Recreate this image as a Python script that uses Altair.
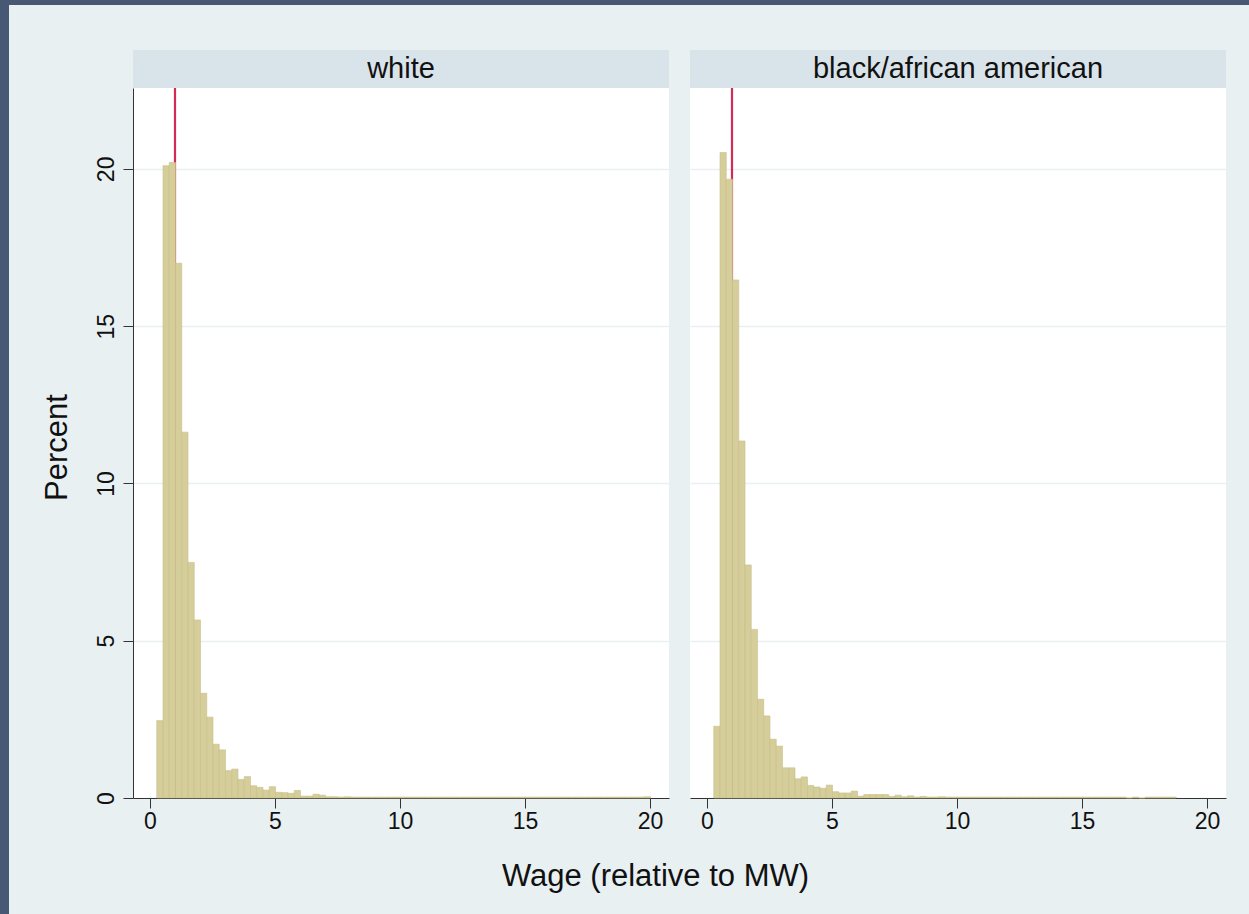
import altair as alt
import pandas as pd

# ---- data ----
groups = ["white", "black/african american"]

first_edge = 0.27
bin_width = 0.25
min_wage = [1.0]

white_pct = [2.46, 20.10, 20.20, 17.00, 11.63, 7.49, 5.66, 3.33, 2.57, 1.71,
             1.53, 0.87, 0.92, 0.59, 0.68, 0.39, 0.34, 0.25, 0.36, 0.18,
             0.17, 0.15, 0.24, 0.06, 0.06, 0.12, 0.09, 0.04, 0.04, 0.03,
             0.04, 0.03, 0.03, 0.03, 0.03, 0.03, 0.03, 0.03, 0.03, 0.03,
             0.03, 0.03, 0.03, 0.03, 0.03, 0.03, 0.03, 0.03, 0.03, 0.03,
             0.03, 0.03, 0.03, 0.03, 0.03, 0.03, 0.03, 0.03, 0.03, 0.03,
             0.03, 0.03, 0.03, 0.03, 0.03, 0.03, 0.03, 0.03, 0.03, 0.03,
             0.03, 0.03, 0.03, 0.03, 0.03, 0.03, 0.03, 0.03, 0.04]

black_pct = [2.28, 20.52, 19.67, 16.47, 11.35, 7.41, 5.36, 3.14, 2.61, 1.87,
             1.65, 0.96, 0.96, 0.61, 0.67, 0.40, 0.35, 0.31, 0.41, 0.20,
             0.16, 0.16, 0.22, 0.06, 0.11, 0.11, 0.11, 0.11, 0.05, 0.09,
             0.04, 0.07, 0.03, 0.05, 0.03, 0.03, 0.04, 0.03, 0.03, 0.03,
             0.03, 0.03, 0.03, 0.03, 0.03, 0.03, 0.03, 0.03, 0.03, 0.03,
             0.03, 0.03, 0.03, 0.03, 0.03, 0.03, 0.03, 0.03, 0.03, 0.03,
             0.03, 0.03, 0.03, 0.03, 0.03, 0.03, 0.00, 0.03, 0.00, 0.03,
             0.03, 0.03, 0.03, 0.03]

x_ticks = [0, 5, 10, 15, 20]
y_ticks = [0, 5, 10, 15, 20]

# ---- styling ----
FONT = "Liberation Sans"
BG = "#E8F0F2"
HEADER = "#D9E4EA"
BORDER = "#465873"
BAR_FILL = "#D5CE9A"
BAR_STROKE = "#C7BF88"
RED = "#D42A58"
AXIS_COL = "#333333"
W, H = 536, 710
XDOM = [-0.68, 20.76]
YDOM = [0, 22.57]


def panel(name, pct, first):
    edges_lo = [first_edge + i * bin_width for i in range(len(pct))]
    edges_hi = [first_edge + (i + 1) * bin_width for i in range(len(pct))]
    df = pd.DataFrame({"lo": edges_lo, "hi": edges_hi, "pct": pct})
    gdf = pd.DataFrame({"g": [name]})

    xaxis = alt.Axis(values=x_ticks, labelAngle=0, labelFontSize=23, tickSize=10,
                     labelPadding=2, grid=False, domainColor=AXIS_COL,
                     tickColor=AXIS_COL, labelColor="#111111",
                     title="Wage (relative to MW)" if first else None,
                     titleFontSize=31, titleFontWeight="normal", titleColor="#111111",
                     titleX=522, titleY=78, titleAlign="center", titleBaseline="middle")
    if first:
        yaxis = alt.Axis(values=y_ticks, labelAngle=270, labelAlign="center",
                         labelBaseline="bottom", labelFontSize=23, tickSize=10,
                         labelPadding=5, domainColor=AXIS_COL, tickColor=AXIS_COL,
                         labelColor="#111111", gridColor=BG, gridWidth=1.5,
                         title="Percent", titleFontSize=31, titleFontWeight="normal",
                         titleColor="#111111", titleAngle=270, titleX=-76, titleY=359,
                         titleAlign="center", titleBaseline="middle")
    else:
        yaxis = alt.Axis(values=y_ticks, labels=False, ticks=False, domain=False,
                         gridColor=BG, gridWidth=1.5, title=None)

    xs = alt.Scale(domain=XDOM, nice=False, zero=False)
    ys = alt.Scale(domain=YDOM, nice=False)

    rule = alt.Chart(pd.DataFrame({"mw": min_wage})).mark_rule(
        color=RED, strokeWidth=2.2).encode(
        x=alt.X("mw:Q", scale=xs, axis=xaxis))

    bars = alt.Chart(df).mark_bar(fill=BAR_FILL, stroke=BAR_STROKE, strokeWidth=0.6).encode(
        x=alt.X("lo:Q", scale=xs, axis=xaxis),
        x2="hi:Q",
        y=alt.Y("pct:Q", scale=ys, axis=yaxis),
        y2=alt.datum(0),
    )

    head_rect = alt.Chart(gdf).mark_rect(fill=HEADER).encode(
        x=alt.value(0), x2=alt.value(W), y=alt.value(-38), y2=alt.value(0))
    head_text = alt.Chart(gdf).mark_text(font=FONT, fontSize=29, color="#111111",
                                         baseline="middle", align="center").encode(
        text="g:N", x=alt.value(W / 2), y=alt.value(-19))

    layers = []
    if first:
        top_border = alt.Chart(gdf).mark_rect(fill=BORDER).encode(
            x=alt.value(-133), x2=alt.value(1116), y=alt.value(-88), y2=alt.value(-83))
        left_border = alt.Chart(gdf).mark_rect(fill=BORDER).encode(
            x=alt.value(-133), x2=alt.value(-124), y=alt.value(-88), y2=alt.value(826))
        layers += [top_border, left_border]
    layers += [head_rect, head_text, rule, bars]
    return alt.layer(*layers).properties(width=W, height=H)


left = panel(groups[0], white_pct, True)
right = panel(groups[1], black_pct, False)

chart = alt.hconcat(left, right, spacing=21, bounds="flush").properties(
    background=BG, padding=0
).configure_view(fill="white", strokeWidth=0).configure_axis(
    labelFont=FONT, titleFont=FONT
).resolve_scale(x="independent", y="independent")

chart.save("out.html", embed_options={"renderer": "svg", "actions": False})
